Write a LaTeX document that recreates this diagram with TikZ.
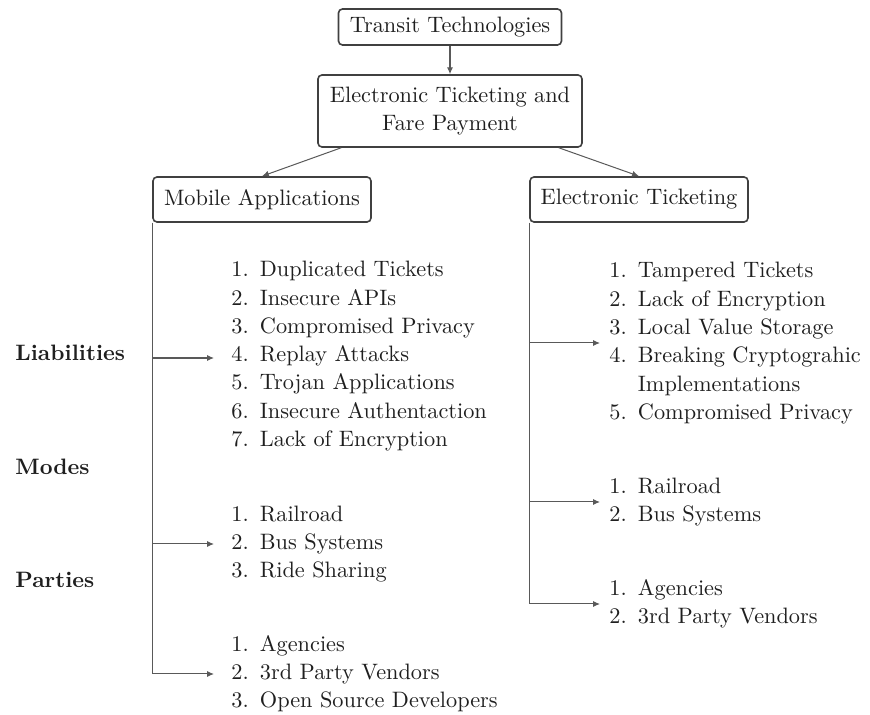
\documentclass[tikz,border=0pt]{standalone}
\usetikzlibrary{arrows.meta,positioning,calc}
\begin{document}
\begin{tikzpicture}[x=0.4484pt,y=-0.4484pt,
  every node/.style={font=\fontsize{10}{12.69}\selectfont, text=black!88},
  box/.style={draw=black!75, line width=0.72pt, rounded corners=1.8pt, inner sep=0pt, align=center},
  conn/.style={draw=black!65, line width=0.45pt},
  arr/.style={conn, -{Latex[length=3.1pt,width=2.7pt]}},
  lst/.style={anchor=west, inner sep=0pt},
  lbl/.style={anchor=west, inner sep=0pt, font=\fontsize{10}{12.69}\selectfont\bfseries}]
\useasboundingbox (0,0) rectangle (870,715);
\node[box, minimum width=100pt, minimum height=16.14pt] (tt) at (450,27) {Transit Technologies};
\node[box, minimum width=118.4pt, minimum height=32.28pt] (etfp) at (450,111) {Electronic Ticketing and\\Fare Payment};
\node[box, minimum width=97.75pt, minimum height=20.18pt] (mob) at (262,199.5) {Mobile Applications};
\node[box, minimum width=97.75pt, minimum height=20.18pt] (et) at (639,199.5) {Electronic Ticketing};

\draw[arr] (tt) -- (etfp);
\draw[arr] ($(etfp.south west)+(24,0)$) -- (mob.north);
\draw[arr] ($(etfp.south east)+(-24,0)$) -- (et.north);

\node[lbl] (lia) at (15,353) {Liabilities};
\node[lbl] (mod) at (15,467) {Modes};
\node[lbl] (par) at (15,580) {Parties};

% left lists
\node[lst] (l1) at (231,356) {\begin{tabular}{@{}l@{\hspace{0.5em}}l@{}}
1. & Duplicated Tickets\\
2. & Insecure APIs\\
3. & Compromised Privacy\\
4. & Replay Attacks\\
5. & Trojan Applications\\
6. & Insecure Authentaction\\
7. & Lack of Encryption
\end{tabular}};
\node[lst] (l2) at (231,544) {\begin{tabular}{@{}l@{\hspace{0.5em}}l@{}}
1. & Railroad\\
2. & Bus Systems\\
3. & Ride Sharing
\end{tabular}};
\node[lst] (l3) at (231,674) {\begin{tabular}{@{}l@{\hspace{0.5em}}l@{}}
1. & Agencies\\
2. & 3rd Party Vendors\\
3. & Open Source Developers
\end{tabular}};

% right lists
\node[lst] (r1) at (609,343) {\begin{tabular}{@{}l@{\hspace{0.5em}}l@{}}
1. & Tampered Tickets\\
2. & Lack of Encryption\\
3. & Local Value Storage\\
4. & Breaking Cryptograhic\\
   & Implementations\\
5. & Compromised Privacy
\end{tabular}};
\node[lst] (r2) at (609,502) {\begin{tabular}{@{}l@{\hspace{0.5em}}l@{}}
1. & Railroad\\
2. & Bus Systems
\end{tabular}};
\node[lst] (r3) at (609,604) {\begin{tabular}{@{}l@{\hspace{0.5em}}l@{}}
1. & Agencies\\
2. & 3rd Party Vendors
\end{tabular}};

\draw[arr] (mob.south west) |- ([xshift=-7.62pt,yshift=-0.9pt]l1.west);
\draw[arr] (mob.south west) |- ([xshift=-7.62pt]l2.west);
\draw[arr] (mob.south west) |- ([xshift=-7.62pt]l3.west);
\draw[arr] (et.south west) |- ([xshift=-4.04pt]r1.west);
\draw[arr] (et.south west) |- ([xshift=-4.04pt]r2.west);
\draw[arr] (et.south west) |- ([xshift=-4.04pt]r3.west);
\end{tikzpicture}
\end{document}
